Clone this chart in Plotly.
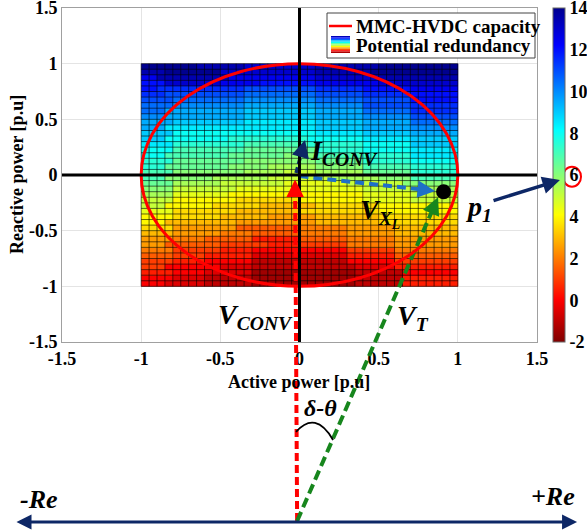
import plotly.graph_objects as go
from plotly.colors import sample_colorscale

W, H = 587, 532
SERIF = "Liberation Serif"

# ---------------- data ----------------
p_edges = [round(-1 + 0.05 * k, 2) for k in range(41)]      # active power cell edges [p.u]
q_edges = list(p_edges)                                       # reactive power cell edges [p.u]
p_centers = [round((a + b) / 2, 3) for a, b in zip(p_edges[:-1], p_edges[1:])]
q_centers = [round((a + b) / 2, 3) for a, b in zip(q_edges[:-1], q_edges[1:])]

# potential redundancy, read row by row (top row Q~1 first), as (value, run length) over 40 columns P=-1..1
redundancy_rows = [
    [(14, 7), (13.5, 6), (13, 9), (13.5, 8), (14, 10)],
    [(13.5, 3), (14, 7), (13, 12), (13.5, 7), (14, 11)],
    [(12.5, 2), (13.5, 9), (12.5, 11), (13, 8), (13.5, 10)],
    [(12, 3), (13, 7), (12.5, 5), (12, 7), (12.5, 8), (13, 10)],
    [(12, 2), (11.5, 11), (11, 9), (11.5, 6), (12, 6), (12.5, 6)],
    [(11.5, 3), (11, 10), (10.5, 9), (11, 6), (11.5, 6), (12, 6)],
    [(11, 4), (10.5, 9), (10, 9), (10.5, 6), (11, 6), (12, 6)],
    [(10.5, 4), (10, 9), (9.5, 9), (10, 6), (11, 6), (11.5, 6)],
    [(10.5, 3), (9.5, 10), (9, 9), (9.5, 6), (10.5, 6), (11.5, 6)],
    [(10, 3), (9.5, 10), (9, 9), (9.5, 6), (10, 6), (11, 6)],
    [(9.5, 4), (9, 9), (8.5, 9), (9, 6), (9.5, 6), (10.5, 6)],
    [(9.5, 3), (8.5, 19), (9, 6), (9.5, 6), (10, 6)],
    [(9, 4), (8, 18), (8.5, 6), (9, 6), (9.5, 6)],
    [(9, 3), (8, 8), (7.5, 10), (8, 7), (8.5, 6), (9, 6)],
    [(8.5, 4), (7.5, 9), (7, 8), (7.5, 7), (8, 6), (9, 6)],
    [(8, 4), (7, 9), (6.5, 9), (7.5, 6), (8, 6), (8.5, 6)],
    [(8, 3), (7, 8), (6.5, 7), (6, 4), (7, 6), (7.5, 6), (8.5, 6)],
    [(7.5, 4), (6.5, 9), (6, 9), (6.5, 6), (7.5, 6), (8, 6)],
    [(7.5, 3), (6.5, 8), (6, 5), (5.5, 6), (6, 6), (7, 6), (7.5, 6)],
    [(7, 4), (6, 9), (5.5, 5), (5, 4), (5.5, 6), (6.5, 6), (7.5, 6)],
    [(7, 3), (6, 6), (5.5, 7), (5, 8), (5.5, 6), (6, 4), (7, 6)],
    [(6.5, 4), (5.5, 6), (5, 8), (4.5, 8), (5, 7), (6, 7)],
    [(6, 4), (5, 8), (4.5, 16), (5, 6), (5.5, 6)],
    [(5.5, 4), (4.5, 7), (4, 17), (4.5, 6), (5, 6)],
    [(5, 4), (4, 8), (3.5, 8), (4, 8), (4.5, 6), (5, 6)],
    [(5, 3), (4, 6), (3.5, 6), (3, 7), (3.5, 8), (4, 10)],
    [(4.5, 4), (3.5, 8), (3, 8), (3.5, 10), (4, 10)],
    [(4, 4), (3.5, 6), (3, 6), (2.5, 6), (3, 8), (3.5, 10)],
    [(4, 3), (3, 9), (2.5, 10), (3, 8), (3.5, 10)],
    [(3.5, 4), (2.5, 8), (1.5, 8), (2, 6), (2.5, 6), (3, 8)],
    [(3, 4), (2.5, 6), (2, 4), (1.5, 6), (2, 6), (2.5, 6), (3, 8)],
    [(2.5, 4), (2, 4), (1.5, 6), (0.5, 6), (1.5, 6), (2, 6), (2.5, 8)],
    [(2.5, 3), (1.5, 7), (1, 6), (0.5, 4), (1, 6), (2, 6), (2.5, 8)],
    [(2, 4), (1, 6), (0.5, 4), (0, 12), (1, 6), (2, 8)],
    [(1.5, 4), (1, 4), (0.5, 6), (-0.5, 12), (0.5, 6), (1.5, 8)],
    [(1, 4), (0.5, 4), (0, 6), (-1, 12), (0, 6), (1, 8)],
    [(1, 3), (0, 7), (-0.5, 4), (-1, 13), (-0.5, 5), (0.5, 8)],
    [(0.5, 4), (0, 4), (-0.5, 6), (-1.5, 13), (-1, 6), (0, 7)],
    [(0, 4), (-0.5, 4), (-1, 6), (-1.5, 13), (-1, 6), (0.5, 7)],
    [(0, 3), (-0.5, 5), (-1, 6), (-1.5, 13), (-1, 6), (0.5, 7)],
]

axis_ticks = [-1.5, -1, -0.5, 0, 0.5, 1, 1.5]
axis_ticktext = ["-1.5", "-1", "-0.5", "0", "0.5", "1", "1.5"]
cbar_ticks = [-2, 0, 2, 4, 6, 8, 10, 12, 14]
cbar_ticktext = ["-2", "0", "2", "4", "6", "8", "10", "12", "14"]

capacity_radius = 1.0
p1_point = (0.91, -0.15)

# phasor diagram points (same p.u. scale as the axes, extended below the plot)
vertex = (-0.015, -3.108)
red_tip = (-0.028, -0.04)
green_tip = (0.875, -0.20)
blue_start = (0.0, -0.01)
blue_tip = (0.856, -0.144)
iconv_start = (-0.022, 0.018)
iconv_tip = (0.035, 0.314)
navy_from = (1.216, -0.234)
navy_to = (1.645, -0.045)
re_axis = (-1.797, 1.753, -3.117)

# ---------------- build ----------------
z = []
for row in reversed(redundancy_rows):
    vals = []
    for v, n in row:
        vals += [v] * n
    assert len(vals) == 40, len(vals)
    z.append(vals)

jet_r = [[0, "rgb(128,0,0)"], [0.127, "rgb(255,0,0)"], [0.381, "rgb(255,255,0)"],
         [0.635, "rgb(0,255,255)"], [0.889, "rgb(0,0,255)"], [1, "rgb(0,0,143)"]]

x_dom = [62 / W, 537 / W]
y_dom = [1 - 342 / H, 1 - 8 / H]
ppx = (x_dom[1] - x_dom[0]) * W / 3.0
ppy = (y_dom[1] - y_dom[0]) * H / 3.0
x2_range = [-1.5 - x_dom[0] * W / ppx, 1.5 + (1 - x_dom[1]) * W / ppx]
y2_range = [-1.5 - y_dom[0] * H / ppy, 1.5 + (1 - y_dom[1]) * H / ppy]

fig = go.Figure()

fig.add_trace(go.Heatmap(
    x=p_centers, y=q_centers, z=z, colorscale=jet_r, zmin=-2, zmax=14,
    xaxis="x", yaxis="y", hoverinfo="skip",
    colorbar=dict(x=553 / W, xanchor="left", y=1 - 8 / H, yanchor="top",
                  len=334 / H, lenmode="fraction", thickness=12, thicknessmode="pixels",
                  outlinewidth=1, outlinecolor="#666", xpad=0, ypad=0,
                  tickvals=cbar_ticks, ticktext=cbar_ticktext, ticks="",
                  ticklabeloverflow="allow",
                  tickfont=dict(family=SERIF, size=18, color="black", weight="bold")),
))

# cell edges
gx, gy = [], []
for e in p_edges:
    gx += [e, e, None]
    gy += [q_edges[0], q_edges[-1], None]
for e in q_edges:
    gx += [p_edges[0], p_edges[-1], None]
    gy += [e, e, None]
fig.add_trace(go.Scatter(x=gx, y=gy, mode="lines", xaxis="x", yaxis="y",
                         line=dict(color="rgba(0,0,0,0.6)", width=1), hoverinfo="skip"))


def tail_of(start, tip, f):
    return (tip[0] - f * (tip[0] - start[0]), tip[1] - f * (tip[1] - start[1]))


def dashed(start, tip, f, color, width, dash):
    t = tail_of(start, tip, f)
    fig.add_trace(go.Scatter(x=[start[0], t[0]], y=[start[1], t[1]], mode="lines",
                             xaxis="x2", yaxis="y2", hoverinfo="skip", cliponaxis=False,
                             line=dict(color=color, width=width, dash=dash)))
    return t


annotations = []


def arrow(tail, tip, color, width, size=1.0, side="end"):
    annotations.append(dict(x=tip[0], y=tip[1], ax=tail[0], ay=tail[1], xref="x2", yref="y2",
                            axref="x2", ayref="y2", text="", showarrow=True, arrowhead=2,
                            arrowsize=size, arrowwidth=width, arrowcolor=color,
                            standoff=0, startstandoff=0, arrowside=side))


RED, GREEN, BLUE, NAVY = "#ff0000", "#17861d", "#1f6fc8", "#0d2766"
t = dashed(vertex, red_tip, 0.045, RED, 4, "8px,4px")
arrow(t, red_tip, RED, 3.5)
t = dashed(vertex, green_tip, 0.04, GREEN, 4, "10px,5px")
arrow(t, green_tip, GREEN, 3.5)
t = dashed(blue_start, blue_tip, 0.1, BLUE, 4, "9px,5px")
arrow(t, blue_tip, BLUE, 3.5)
t = dashed(iconv_start, iconv_tip, 0.4, NAVY, 3.5, "6px,3px")
arrow(t, iconv_tip, NAVY, 3.5)
arrow(navy_from, navy_to, NAVY, 3.5)
annotations.append(dict(x=re_axis[1], y=re_axis[2], ax=re_axis[0], ay=re_axis[2], xref="x2", yref="y2",
                        axref="x2", ayref="y2", text="", showarrow=True, arrowhead=2, arrowsize=1,
                        arrowwidth=3, arrowcolor=NAVY, standoff=0, startstandoff=0,
                        arrowside="end+start"))

fig.add_trace(go.Scatter(x=[p1_point[0]], y=[p1_point[1]], mode="markers", xaxis="x2", yaxis="y2",
                         marker=dict(color="black", size=15), hoverinfo="skip", cliponaxis=False))


def label(text, x, y, size, xanchor="center", ref="x2", italic=True, angle=0):
    annotations.append(dict(x=x, y=y, xref=ref if ref != "paper" else "paper",
                            yref=("y2" if ref == "x2" else "paper"), text=text, showarrow=False,
                            xanchor=xanchor, yanchor="middle", textangle=angle,
                            font=dict(family=SERIF, size=size, color="black", weight="bold",
                                      style="italic" if italic else "normal")))


label("I<sub>CONV</sub>", 0.055, 0.20, 28, xanchor="left")
label("V<sub>X<sub>L</sub></sub>", 0.37, -0.34, 28, xanchor="left")
label("V<sub>CONV</sub>", -0.525, -1.27, 28, xanchor="left")
label("V<sub>T</sub>", 0.60, -1.28, 28, xanchor="left")
label("p<sub>1</sub>", 1.04, -0.30, 28, xanchor="left")
label("δ-θ", 0.13, -2.09, 24)
label("-Re", -1.645, -2.915, 26)
label("+Re", 1.60, -2.89, 26)

# axis titles and legend text (paper coordinates)
label("Reactive power [p.u]", 17 / W, 1 - 175 / H, 18, ref="paper", italic=False, angle=-90)
label("Active power [p.u]", 299 / W, 1 - 382 / H, 18, ref="paper", italic=False)
label("MMC-HVDC capacity", 354 / W, 1 - 26 / H, 19, xanchor="left", ref="paper", italic=False)
label("Potential redundancy", 354 / W, 1 - 45 / H, 19, xanchor="left", ref="paper", italic=False)

shapes = [
    dict(type="circle", xref="x", yref="y", x0=-capacity_radius, x1=capacity_radius,
         y0=-capacity_radius, y1=capacity_radius, line=dict(color=RED, width=3)),
    dict(type="line", xref="x", yref="y", x0=0, x1=0, y0=-1.5, y1=1.5, line=dict(color="black", width=3)),
    dict(type="line", xref="x", yref="y", x0=-1.5, x1=1.5, y0=0, y1=0, line=dict(color="black", width=3)),
    # angle arc
    dict(type="path", xref="x2", yref="y2", path="M -0.022,-2.308 Q 0.101,-2.111 0.212,-2.380",
         line=dict(color="black", width=1.8)),
    # circle around colorbar label 6
    dict(type="circle", xref="x2", yref="y2", x0=1.664, x1=1.778, y0=-0.105, y1=0.075,
         line=dict(color=RED, width=2)),
    # legend box
    dict(type="rect", xref="paper", yref="paper", x0=327 / W, x1=535 / W, y0=1 - 58 / H, y1=1 - 13 / H,
         fillcolor="white", line=dict(color="#444", width=1), layer="above"),
    dict(type="line", xref="paper", yref="paper", x0=329 / W, x1=352 / W, y0=1 - 26 / H, y1=1 - 26 / H,
         line=dict(color=RED, width=2.5)),
]
nsq = 12
sq_cols = sample_colorscale(jet_r, [1 - (i + 0.5) / nsq for i in range(nsq)])
top, bot = 36, 53
for i, c in enumerate(sq_cols):
    ya = top + (bot - top) * i / nsq
    yb = top + (bot - top) * (i + 1) / nsq
    shapes.append(dict(type="rect", xref="paper", yref="paper", x0=331 / W, x1=350 / W,
                       y0=1 - yb / H, y1=1 - ya / H, fillcolor=c, line=dict(width=0)))

axis_common = dict(range=[-1.5, 1.5], tickvals=axis_ticks, ticktext=axis_ticktext, showgrid=True,
                   gridcolor="#e4e4e4", gridwidth=1, zeroline=False, showline=True, linecolor="#a0a0a0",
                   linewidth=1, mirror=True, ticks="", automargin=False, fixedrange=True,
                   ticklabeloverflow="allow",
                   tickfont=dict(family=SERIF, size=18, color="black", weight="bold"))

fig.update_layout(
    width=W, height=H, margin=dict(l=0, r=0, t=0, b=0), paper_bgcolor="white",
    plot_bgcolor="rgba(0,0,0,0)", showlegend=False,
    xaxis=dict(domain=x_dom, anchor="y", **axis_common),
    yaxis=dict(domain=y_dom, anchor="x", **axis_common),
    xaxis2=dict(domain=[0, 1], range=x2_range, visible=False, anchor="y2", fixedrange=True),
    yaxis2=dict(domain=[0, 1], range=y2_range, visible=False, anchor="x2", fixedrange=True),
    annotations=annotations, shapes=shapes,
)

fig.write_html("out.html")
